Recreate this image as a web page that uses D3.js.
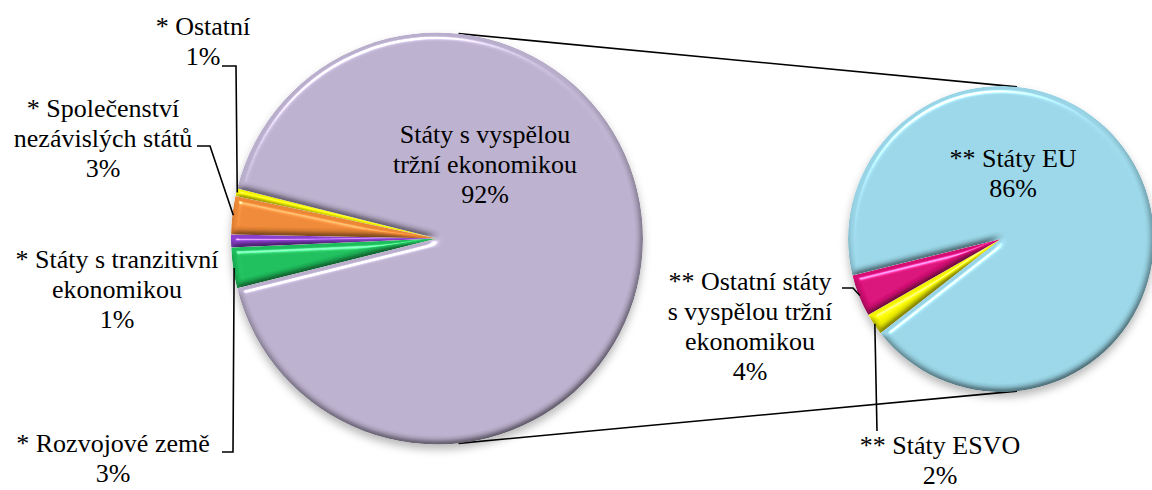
<!DOCTYPE html>
<html>
<head>
<meta charset="utf-8">
<script src="https://cdn.jsdelivr.net/npm/d3@7"></script>
<style>
  html, body { margin: 0; padding: 0; background: #fff; }
  svg { display: block; }
</style>
</head>
<body>
<script>
// ---------------- DATA ----------------
const leftCategories = [
  "* Rozvojové země",
  "* Státy s tranzitivní ekonomikou",
  "* Společenství nezávislých států",
  "* Ostatní",
  "Státy s vyspělou tržní ekonomikou"
];
const leftValues = [3.2, 1.0, 3.0, 0.6, 92.2];
const leftLabelLines = [
  ["* Rozvojové země"],
  ["* Státy s tranzitivní", "ekonomikou"],
  ["* Společenství", "nezávislých států"],
  ["* Ostatní"],
  ["Státy s vyspělou", "tržní ekonomikou"]
];
const leftColors = ["#1FBD5C", "#8A40CC", "#EC8736", "#F2F200", "#B9AECB"];

const rightCategories = [
  "** Státy ESVO",
  "** Ostatní státy s vyspělou tržní ekonomikou",
  "** Státy EU"
];
const rightValues = [2.1, 4.1, 86.0];
const rightLabelLines = [
  ["** Státy ESVO"],
  ["** Ostatní státy", "s vyspělou tržní", "ekonomikou"],
  ["** Státy EU"]
];
const rightColors = ["#F2F200", "#D70F76", "#98D4E5"];

// ---------------- LAYOUT ----------------
const W = 1152, H = 490;
const LH = 30; // line height
const FONT = "'Liberation Serif', 'Times New Roman', Times, 'DejaVu Serif', serif";
const left = { cx: 437, cy: 238.5, r: 206, start: 256 };
const right = { cx: 1001, cy: 239, r: 153, start: 232 };
const connectorAngle = 6; // degrees right of vertical, where the connector lines touch the pies

// label placement: center x, first baseline y, optional leader elbow points (label side)
const leftLabelPos = [
  { x: 113, y: 452, leader: [[222, 452], [233, 452]] },
  { x: 117, y: 268, leader: null },
  { x: 103, y: 117, leader: [[197, 146], [210, 146]] },
  { x: 203, y: 35, leader: [[222, 66], [236, 66]] },
  { x: 485, y: 143, leader: null }
];
const rightLabelPos = [
  { x: 940, y: 454, leader: [[877, 431]] },
  { x: 750, y: 290, leader: [[842, 288], [853, 288]] },
  { x: 1013, y: 167, leader: null }
];

const fmt = v => Math.round(v) + "%";
const rad = d => d * Math.PI / 180;

const svg = d3.select("body").append("svg").attr("width", W).attr("height", H)
  .attr("font-family", FONT).attr("font-size", 26);
const defs = svg.append("defs");

// bevel filter (lighting on blurred alpha)
const bevel = defs.append("filter").attr("id", "bevel")
  .attr("x", "-5%").attr("y", "-5%").attr("width", "110%").attr("height", "110%")
  .attr("color-interpolation-filters", "sRGB");
bevel.append("feGaussianBlur").attr("in", "SourceAlpha").attr("stdDeviation", 3).attr("result", "b");
const dl = bevel.append("feDiffuseLighting").attr("in", "b").attr("surfaceScale", 3)
  .attr("diffuseConstant", 1.11).attr("lighting-color", "#fff").attr("result", "d");
dl.append("feDistantLight").attr("azimuth", 250).attr("elevation", 64);
bevel.append("feComposite").attr("in", "SourceGraphic").attr("in2", "d")
  .attr("operator", "arithmetic").attr("k1", 1).attr("k2", 0).attr("k3", 0).attr("k4", 0).attr("result", "shaded");
const sl = bevel.append("feSpecularLighting").attr("in", "b").attr("surfaceScale", 3)
  .attr("specularConstant", 0.6).attr("specularExponent", 128).attr("lighting-color", "#fff").attr("result", "s");
sl.append("feDistantLight").attr("azimuth", 250).attr("elevation", 64);
bevel.append("feComposite").attr("in", "s").attr("in2", "SourceAlpha").attr("operator", "in").attr("result", "sIn");
bevel.append("feComposite").attr("in", "shaded").attr("in2", "sIn")
  .attr("operator", "arithmetic").attr("k1", 0).attr("k2", 1).attr("k3", 1).attr("k4", 0).attr("result", "lit");
bevel.append("feComposite").attr("in", "lit").attr("in2", "SourceAlpha").attr("operator", "in");

// drop shadow
const shadow = defs.append("filter").attr("id", "shadow")
  .attr("x", "-10%").attr("y", "-10%").attr("width", "120%").attr("height", "125%");
shadow.append("feDropShadow").attr("dx", 0).attr("dy", 5).attr("stdDeviation", 4)
  .attr("flood-color", "#000").attr("flood-opacity", 0.28);

function pointOn(p, angDeg, r) { // d3 angle (0 = up, clockwise)
  const a = rad(angDeg);
  return [p.cx + r * Math.sin(a), p.cy - r * Math.cos(a)];
}

// connector lines
const connectors = [
  [pointOn(left, connectorAngle, left.r), pointOn(right, connectorAngle, right.r)],
  [pointOn(left, 180 - connectorAngle, left.r), pointOn(right, 180 - connectorAngle, right.r)]
];
svg.append("g").selectAll("line").data(connectors).join("line")
  .attr("x1", d => d[0][0]).attr("y1", d => d[0][1])
  .attr("x2", d => d[1][0]).attr("y2", d => d[1][1])
  .attr("stroke", "#000").attr("stroke-width", 1.6);

function drawPie(p, values, colors, lines, pos) {
  const pie = d3.pie().sort(null).value(d => d)
    .startAngle(rad(p.start)).endAngle(rad(p.start + 360));
  const arcs = pie(values);
  const arc = d3.arc().innerRadius(0).outerRadius(p.r);
  const g = svg.append("g").attr("transform", `translate(${p.cx},${p.cy})`);
  const shadowG = g.append("g").attr("filter", "url(#shadow)");
  shadowG.selectAll("path").data(arcs).join("path")
    .attr("d", arc).attr("fill", (d, i) => colors[i]).attr("filter", "url(#bevel)");

  // leaders
  arcs.forEach((a, i) => {
    const lp = pos[i];
    if (!lp.leader) return;
    const mid = (a.startAngle + a.endAngle) / 2;
    const end = [p.cx + (p.r - 1) * Math.sin(mid), p.cy - (p.r - 1) * Math.cos(mid)];
    const pts = lp.leader.concat([end]);
    svg.append("path").attr("d", d3.line()(pts))
      .attr("fill", "none").attr("stroke", "#000").attr("stroke-width", 1.6);
  });

  // labels
  arcs.forEach((a, i) => {
    const lp = pos[i];
    const ls = lines[i].concat([fmt(values[i])]);
    const t = svg.append("text").attr("text-anchor", "middle")
      .attr("font-family", FONT).attr("font-size", 26).attr("fill", "#000");
    ls.forEach((s, k) => {
      t.append("tspan").attr("x", lp.x).attr("y", lp.y + k * LH).text(s);
    });
  });
}

drawPie(left, leftValues, leftColors, leftLabelLines, leftLabelPos);
drawPie(right, rightValues, rightColors, rightLabelLines, rightLabelPos);
</script>
</body>
</html>
